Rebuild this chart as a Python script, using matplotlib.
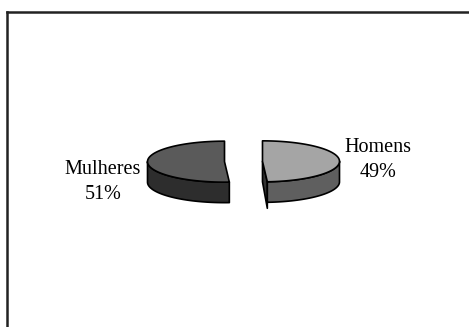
import numpy as np
import matplotlib.pyplot as plt
from matplotlib.patches import Polygon
from matplotlib.lines import Line2D

labels = ['Homens', 'Mulheres']
values = [49, 51]
top_colors = ['#a5a5a5', '#5a5a5a']
side_colors = ['#5f5f5f', '#2d2d2d']


def rim(cx, cy, rx, ry, t):
    # t measured clockwise from 12 o'clock, screen coords (y down)
    return np.column_stack([cx + rx * np.sin(t), cy - ry * np.cos(t)])


def main() -> None:
    """Main."""
    W, H = 469, 327
    fig = plt.figure(figsize=(W / 100, H / 100), dpi=100)
    ax = fig.add_axes([0, 0, 1, 1])
    ax.set_xlim(0, W)
    ax.set_ylim(H, 0)
    ax.axis('off')

    # frame (only top and left visible in the reference)
    ax.add_line(Line2D([7, 7], [H + 5, 11.5], color='#222222', lw=1.8))
    ax.add_line(Line2D([7, W + 5], [11.5, 11.5], color='#222222', lw=1.8))

    cx0, cy0 = 243.5, 161.5
    rx, ry, depth = 77, 20.5, 20.5
    explode = 19
    lw = 1.2
    ec = 'black'

    fracs = np.array(values, dtype=float) / sum(values)
    starts = np.concatenate([[0], np.cumsum(fracs)[:-1]]) * 2 * np.pi
    ends = np.cumsum(fracs) * 2 * np.pi

    for i in range(len(values)):
        t0, t1 = starts[i], ends[i]
        mid = (t0 + t1) / 2
        cx = cx0 + explode * np.sin(mid)
        cy = cy0 - explode * np.cos(mid) * ry / rx

        # radial face at the end of the slice if it faces the viewer
        for t, sgn in ((t0, -1), (t1, 1)):
            nx, ny = sgn * np.cos(t), -sgn * np.sin(t)
            if ny < -1e-6 and abs(nx) > 1e-6:
                p = rim(cx, cy, rx, ry, np.array([t]))[0]
                face = [(cx, cy), tuple(p), (p[0], p[1] + depth + 6), (cx, cy + depth)]
                ax.add_patch(Polygon(face, closed=True, fc='#333333',
                                     ec=ec, lw=lw, joinstyle='round'))

        # outer side wall (front half only)
        a = max(t0, np.pi / 2)
        b = min(t1, 3 * np.pi / 2)
        if b > a:
            ts = np.linspace(a, b, 120)
            top = rim(cx, cy, rx, ry, ts)
            bot = top + [0, depth]
            wall = np.vstack([top, bot[::-1]])
            ax.add_patch(Polygon(wall, closed=True, fc=side_colors[i],
                                 ec=ec, lw=lw, joinstyle='round'))

        # top face
        ts = np.linspace(t0, t1, 200)
        pts = np.vstack([[cx, cy], rim(cx, cy, rx, ry, ts)])
        ax.add_patch(Polygon(pts, closed=True, fc=top_colors[i],
                             ec=ec, lw=lw, joinstyle='round'))

    # data labels
    label_pos = [(378, 160), (103, 182)]
    for i, lab in enumerate(labels):
        ax.text(label_pos[i][0], label_pos[i][1], f'{lab}\n{values[i]}%',
                ha='center', va='center', multialignment='center',
                family='Liberation Serif', fontsize=14.5, linespacing=1.4,
                color='black')

    fig.savefig('out.png', dpi=100)


if __name__ == '__main__':
    main()
